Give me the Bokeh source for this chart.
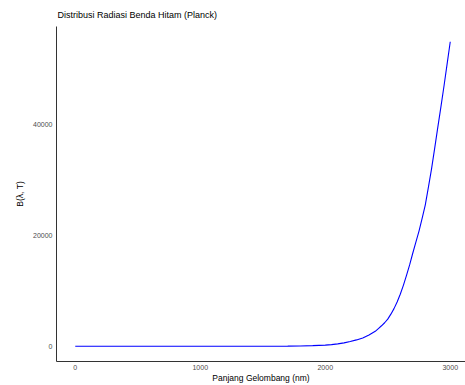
from bokeh.plotting import figure
from bokeh.models import Range1d, FixedTicker, NumeralTickFormatter
from bokeh.embed import file_html
from bokeh.resources import INLINE

# Planck spectral radiance samples: wavelength (nm) and B(lambda, T)
wavelength_nm = [0, 250, 500, 750, 1000, 1250, 1500, 1600, 1700, 1800, 1900, 2000,
                 2050, 2100, 2150, 2200, 2250, 2300, 2350, 2400, 2425, 2450, 2475,
                 2500, 2525, 2550, 2575, 2600, 2625, 2650, 2675, 2700, 2725, 2750,
                 2775, 2800, 2825, 2850, 2875, 2900, 2925, 2950, 2975, 3000]
radiance = [0, 0, 0, 0, 0, 0, 0, 10, 25, 55, 110, 200,
            300, 430, 620, 850, 1150, 1500, 2050, 2700, 3200, 3700, 4250,
            4900, 5800, 6800, 8000, 9400, 11000, 12800, 14700, 16800, 18800, 20800,
            23100, 25500, 28700, 32000, 35700, 39500, 43200, 47000, 51000, 55000]

x_ticks = [0, 1000, 2000, 3000]
y_ticks = [0, 20000, 40000]

FONT = "Liberation Sans"

p = figure(width=465, height=385, output_backend="svg", toolbar_location=None,
           x_range=Range1d(-150, 3122), y_range=Range1d(-2750, 57750),
           title="Distribusi Radiasi Benda Hitam (Planck)",
           x_axis_label="Panjang Gelombang (nm)", y_axis_label="B(λ, T)",
           min_border_left=56, min_border_right=0, min_border_top=25,
           min_border_bottom=20)

p.line(wavelength_nm, radiance, line_color="#0000ff", line_width=1.1)

p.title.text_font = FONT
p.title.text_font_size = "9px"
p.title.text_font_style = "normal"
p.title.text_color = "#000000"
p.title.offset = 1
p.title.standoff = 14

p.grid.visible = False
p.outline_line_color = None
p.background_fill_color = "white"
p.border_fill_color = "white"

for ax in (p.xaxis, p.yaxis):
    ax.axis_line_color = "#333333"
    ax.axis_line_width = 1
    ax.major_tick_line_color = None
    ax.minor_tick_line_color = None
    ax.major_tick_out = 0
    ax.major_tick_in = 0
    ax.minor_tick_out = 0
    ax.minor_tick_in = 0
    ax.major_label_text_font = FONT
    ax.major_label_text_font_size = "7px"
    ax.major_label_text_color = "#4d4d4d"
    ax.axis_label_text_font = FONT
    ax.axis_label_text_font_size = "8.5px"
    ax.axis_label_text_font_style = "normal"
    ax.axis_label_text_color = "#000000"

p.xaxis.ticker = FixedTicker(ticks=x_ticks)
p.yaxis.ticker = FixedTicker(ticks=y_ticks)
p.yaxis.formatter = NumeralTickFormatter(format="0")
p.xaxis.formatter = NumeralTickFormatter(format="0")
p.xaxis.major_label_standoff = 3
p.xaxis.axis_label_standoff = 0
p.yaxis.major_label_standoff = 4
p.yaxis.axis_label_standoff = 5

open("out.html", "w").write(file_html(p, INLINE))
